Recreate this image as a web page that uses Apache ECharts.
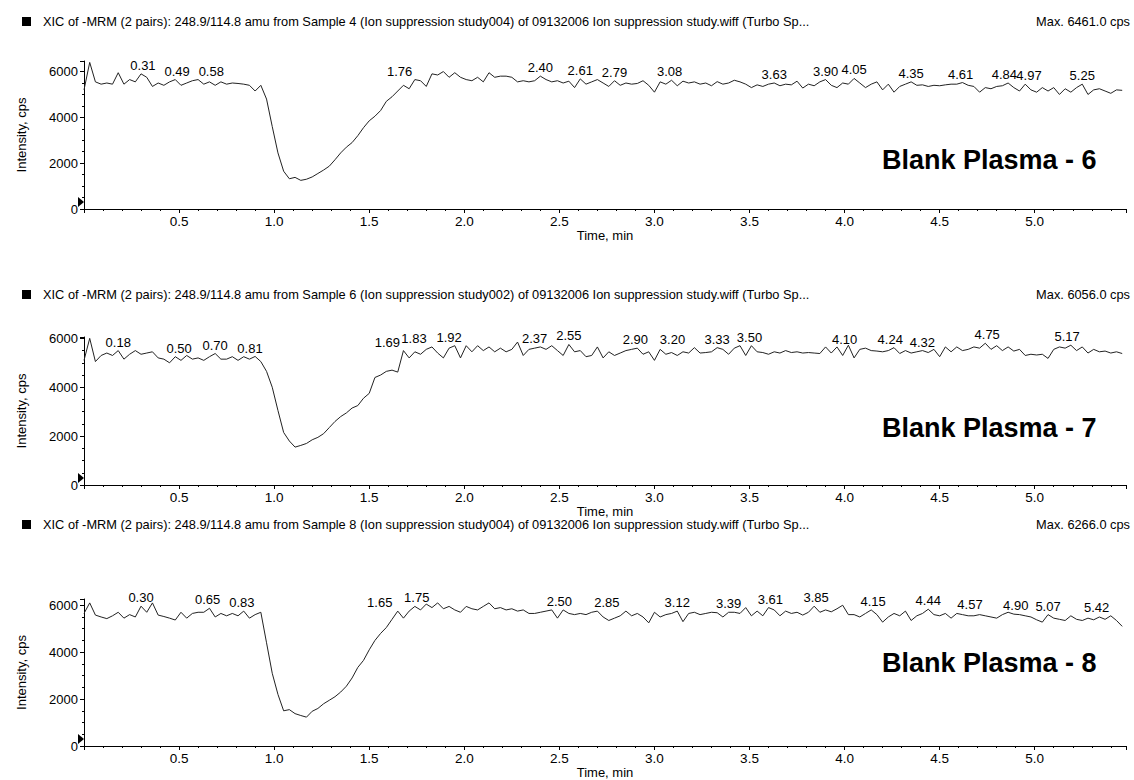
<!DOCTYPE html>
<html>
<head>
<meta charset="utf-8">
<script src="https://cdn.jsdelivr.net/npm/echarts@6/dist/echarts.min.js"></script>
<style>
body { margin: 0; background: #fff; }
#chart { width: 1134px; height: 780px; }
</style>
</head>
<body>
<div id="chart"></div>
<script>
// one scan every 0.03 min, intensities in cps
let scanStep = 0.03;

let sample4 = [
	5200, 6400, 5550, 5450, 5500, 5450, 5950, 5450, 5650, 5550,
	5900, 5750, 5350, 5500, 5400, 5550, 5650, 5400, 5500, 5600,
	5650, 5450, 5550, 5400, 5550, 5450, 5500, 5480, 5450, 5400,
	5150, 5400, 4800, 3600, 2450, 1650, 1320, 1380, 1250, 1300,
	1400, 1550, 1700, 1870, 2150, 2450, 2700, 2900, 3200, 3550,
	3850, 4050, 4300, 4700, 4900, 5150, 5400, 5250, 5650, 5600,
	5350, 5900, 5850, 6000, 5750, 5950, 5750, 5650, 5600, 5750,
	5550, 5950, 5750, 5800, 5800, 5750, 5550, 5600, 5550, 5600,
	5800, 5650, 5550, 5600, 5500, 5580, 5300, 5680, 5450, 5550,
	5650, 5500, 5350, 5600, 5400, 5500, 5450, 5480, 5600, 5400,
	5100, 5550, 5450, 5620, 5380, 5580, 5500, 5550, 5450, 5500,
	5380, 5560, 5450, 5500, 5620, 5550, 5450, 5300, 5420, 5350,
	5450, 5500, 5380, 5450, 5420, 5580, 5280, 5450, 5380, 5550,
	5650, 5400, 5300, 5500, 5450, 5700, 5500, 5300, 5450, 5550,
	5200, 5450, 5100, 5350, 5450, 5550, 5400, 5420, 5350, 5400,
	5380, 5420, 5450, 5450, 5520, 5400, 5350, 5100, 5300, 5250,
	5350, 5380, 5500, 5300, 5150, 5450, 5200, 5100, 5300, 5150,
	5300, 5000, 5250, 5100, 5300, 5450, 5000, 5200, 5250, 5150,
	5050, 5200, 5180
];

let sample6 = [
	5100, 6000, 5050, 5300, 5400, 5300, 5500, 5150, 5350, 5500,
	5350, 5400, 5450, 5200, 5150, 5000, 5250, 5100, 5300, 5150,
	5200, 5100, 5250, 5380, 5150, 5150, 5250, 5100, 5250, 5150,
	5260, 5050, 4650, 4000, 3050, 2150, 1800, 1550, 1620, 1700,
	1850, 1950, 2100, 2350, 2600, 2800, 2950, 3150, 3250, 3550,
	3750, 4400, 4500, 4650, 4700, 4620, 5500, 5200, 5450, 5350,
	5550, 5650, 5400, 5200, 5600, 5700, 5200, 5700, 5450, 5700,
	5500, 5650, 5450, 5600, 5450, 5550, 5850, 5300, 5550, 5600,
	5650, 5550, 5700, 5500, 5300, 5750, 5450, 5500, 5250, 5300,
	5650, 5200, 5450, 5300, 5400, 5500, 5550, 5600, 5350, 5450,
	5100, 5550, 5350, 5420, 5300, 5450, 5400, 5620, 5400, 5420,
	5450, 5620, 5550, 5350, 5600, 5700, 5300, 5700, 5450, 5420,
	5350, 5450, 5400, 5500, 5420, 5450, 5400, 5420, 5400, 5380,
	5650, 5400, 5650, 5300, 5720, 5200, 5550, 5600, 5500, 5480,
	5450, 5500, 5620, 5380, 5500, 5400, 5450, 5500, 5420, 5550,
	5250, 5650, 5450, 5650, 5500, 5550, 5650, 5600, 5800, 5550,
	5700, 5500, 5650, 5480, 5550, 5300, 5350, 5320, 5350, 5180,
	5550, 5650, 5600, 5720, 5500, 5650, 5400, 5550, 5450, 5480,
	5400, 5450, 5380
];

let sample8 = [
	5650, 6100, 5580, 5500, 5430, 5550, 5700, 5450, 5600, 5500,
	5960, 5700, 6100, 5580, 5520, 5450, 5370, 5700, 5450, 5650,
	5700, 5700, 5870, 5500, 5650, 5550, 5650, 5550, 5750, 5450,
	5600, 5700, 4400, 3100, 2200, 1500, 1550, 1380, 1300, 1230,
	1480, 1600, 1800, 1950, 2100, 2300, 2550, 2900, 3350, 3650,
	4100, 4500, 4800, 5050, 5400, 5750, 5450, 5750, 5950, 5800,
	6050, 5900, 6100, 5850, 5950, 5800, 5700, 5950, 5850, 5800,
	5950, 6100, 5850, 5900, 5800, 5850, 5750, 5800, 5650, 5650,
	5700, 5750, 5800, 5450, 5800, 5650, 5600, 5650, 5600, 5700,
	5750, 5500, 5350, 5450, 5550, 5750, 5550, 5650, 5500, 5250,
	5700, 5500, 5600, 5650, 5750, 5300, 5650, 5700, 5600, 5650,
	5700, 5680, 5500, 5700, 5700, 5650, 5900, 5550, 5750, 5550,
	5900, 5800, 5550, 5750, 5650, 5700, 5580, 5700, 5960, 5700,
	5800, 5720, 5850, 6000, 5600, 5600, 5500, 5650, 5800, 5600,
	5280, 5500, 5650, 5550, 5750, 5350, 5550, 5650, 5830, 5600,
	5550, 5650, 5450, 5650, 5600, 5550, 5550, 5600, 5550, 5500,
	5450, 5600, 5700, 5620, 5600, 5550, 5500, 5380, 5280, 5600,
	5450, 5400, 5350, 5550, 5400, 5350, 5450, 5380, 5500, 5400,
	5550, 5350, 5100
];

let peaks4 = [0.31, 0.49, 0.58, 1.76, 2.40, 2.61, 2.79, 3.08, 3.63, 3.90, 4.05, 4.35, 4.61, 4.84, 4.97, 5.25];
let peaks6 = [0.18, 0.50, 0.70, 0.81, 1.69, 1.83, 1.92, 2.37, 2.55, 2.90, 3.20, 3.33, 3.50, 4.10, 4.24, 4.32, 4.75, 5.17];
let peaks8 = [0.30, 0.65, 0.83, 1.65, 1.75, 2.50, 2.85, 3.12, 3.39, 3.61, 3.85, 4.15, 4.44, 4.57, 4.90, 5.07, 5.42];

let headers = [
	"XIC of -MRM (2 pairs): 248.9/114.8 amu from Sample 4 (Ion suppression study004) of 09132006 Ion suppression study.wiff (Turbo Sp...",
	"XIC of -MRM (2 pairs): 248.9/114.8 amu from Sample 6 (Ion suppression study002) of 09132006 Ion suppression study.wiff (Turbo Sp...",
	"XIC of -MRM (2 pairs): 248.9/114.8 amu from Sample 8 (Ion suppression study004) of 09132006 Ion suppression study.wiff (Turbo Sp..."
];
let maxIntensity = [6461.0, 6056.0, 6266.0];
let sampleNames = ["Blank Plasma - 6", "Blank Plasma - 7", "Blank Plasma - 8"];
let timeMax = 5.48;

let traces = [sample4, sample6, sample8];
let peaks = [peaks4, peaks6, peaks8];

// layout of the three panels
let gridTops = [61, 337, 599];
let gridHeight = 148;
let headerTops = [15, 288, 518];
let nameTops = [146, 414, 649];
// crowded peak labels are pushed sideways (px), as the instrument software does
let labelShift = [
	{"0.58": 17, "1.76": -19},
	{"0.70": -2, "0.81": 12, "1.69": -18, "1.83": -18, "3.20": -20, "4.10": -19, "4.32": 17},
	{"1.65": -18, "2.85": -19, "4.57": 17, "5.42": -18}
];

let chart = echarts.init(document.getElementById("chart"), null, {renderer: "svg"});

function toPairs(trace) {
	return trace.map((v, i) => [+(i * scanStep).toFixed(2), v]);
}

function peakHeight(trace, t) {
	let best = 0;
	trace.forEach((v, i) => {
		if (Math.abs(i * scanStep - t) <= 0.031 && v > best) best = v;
	});
	return best;
}

let font = "Liberation Sans, Arial, sans-serif";

let grids = [], xAxes = [], yAxes = [], series = [], titles = [], graphics = [];

traces.forEach((trace, k) => {
	grids.push({left: 84, width: 1042, top: gridTops[k], height: gridHeight});
	xAxes.push({
		type: "value", gridIndex: k, min: 0, max: timeMax, interval: 0.5,
		name: "Time, min", nameLocation: "middle", nameGap: 20,
		nameTextStyle: {fontFamily: font, fontSize: 13, color: "#000"},
		axisLine: {lineStyle: {color: "#000", width: 1}},
		axisTick: {length: 4, lineStyle: {color: "#000"}},
		minorTick: {show: true, splitNumber: 5, length: 2, lineStyle: {color: "#000"}},
		splitLine: {show: false},
		axisLabel: {
			fontFamily: font, fontSize: 13.5, color: "#000", margin: 5,
			showMinLabel: false, showMaxLabel: false,
			formatter: v => v.toFixed(1)
		}
	});
	yAxes.push({
		type: "value", gridIndex: k, min: 0, max: maxIntensity[k], interval: 2000,
		name: "Intensity, cps", nameLocation: "middle", nameGap: 56, nameRotate: 90,
		nameTextStyle: {fontFamily: font, fontSize: 13, color: "#000"},
		axisLine: {show: true, lineStyle: {color: "#000", width: 1}},
		axisTick: {show: true, length: 4, lineStyle: {color: "#000"}},
		minorTick: {show: true, splitNumber: 4, length: 2, lineStyle: {color: "#000"}},
		splitLine: {show: false},
		axisLabel: {fontFamily: font, fontSize: 13, color: "#000", margin: 6,
			showMaxLabel: false, formatter: v => String(v)}
	});
	let marks = peaks[k].map(t => ({
		name: t.toFixed(2),
		coord: [t, peakHeight(trace, t)],
		symbol: "circle", symbolSize: 0,
		label: {show: true, position: "top", distance: 2, formatter: "{b}",
			offset: [labelShift[k][t.toFixed(2)] || 0, 0],
			fontFamily: font, fontSize: 13, color: "#000"}
	}));
	marks.push({
		name: "", coord: [0, 0], symbol: "triangle", symbolSize: [10, 6],
		symbolRotate: -90, symbolOffset: [-3, -7],
		itemStyle: {color: "#000"}, label: {show: false}
	});
	series.push({
		type: "line", xAxisIndex: k, yAxisIndex: k, data: toPairs(trace),
		showSymbol: false, symbol: "none", animation: false,
		lineStyle: {color: "#222", width: 1},
		markPoint: {data: marks, animation: false}
	});
	titles.push({
		text: headers[k], left: 43, top: headerTops[k], padding: 0,
		textStyle: {fontFamily: font, fontSize: 12.8, fontWeight: "normal", color: "#000"}
	});
	titles.push({
		text: "Max. " + maxIntensity[k].toFixed(1) + " cps", right: 4, top: headerTops[k], padding: 0,
		textStyle: {fontFamily: font, fontSize: 12.8, fontWeight: "normal", color: "#000"}
	});
	titles.push({
		text: sampleNames[k], left: 882, top: nameTops[k], padding: 0,
		textStyle: {fontFamily: font, fontSize: 27, fontWeight: "bold", color: "#000"}
	});
	graphics.push({
		type: "rect", left: 22, top: headerTops[k] + 2, shape: {width: 9, height: 9},
		style: {fill: "#000"}
	});
});

chart.setOption({
	backgroundColor: "#fff",
	animation: false,
	title: titles,
	grid: grids,
	xAxis: xAxes,
	yAxis: yAxes,
	series: series,
	graphic: graphics
});
</script>
</body>
</html>
